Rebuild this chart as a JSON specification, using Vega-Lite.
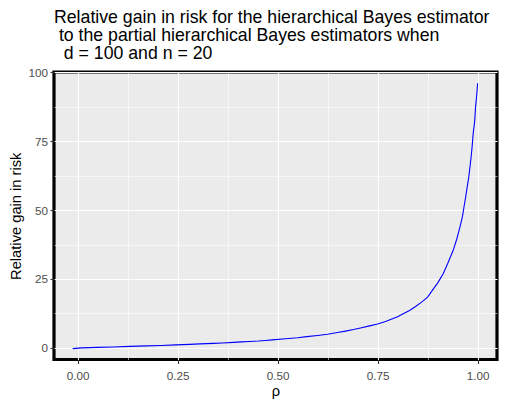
{
  "$schema": "https://vega.github.io/schema/vega-lite/v6.json",
  "autosize": {"type": "none"},
  "width": 443,
  "height": 287.5,
  "padding": {"left": 54, "top": 72, "right": 8, "bottom": 45.5},
  "title": {
    "text": ["Relative gain in risk for the hierarchical Bayes estimator", "\u200b\u00a0to the partial hierarchical Bayes estimators when", "\u200b\u00a0\u00a0d = 100 and n = 20"],
    "anchor": "start",
    "frame": "group",
    "font": "Liberation Sans",
    "fontSize": 17.7,
    "fontWeight": "normal",
    "color": "black",
    "lineHeight": 18.3,
    "baseline": "alphabetic",
    "offset": 12.5,
    "dy": 22.3
  },
  "data": {"values": [
    {"rho": -0.012, "gain": -0.25},
    {"rho": 0.01, "gain": 0.0},
    {"rho": 0.05, "gain": 0.18},
    {"rho": 0.09, "gain": 0.36},
    {"rho": 0.13, "gain": 0.55},
    {"rho": 0.173, "gain": 0.73},
    {"rho": 0.21, "gain": 0.9},
    {"rho": 0.246, "gain": 1.09},
    {"rho": 0.28, "gain": 1.28},
    {"rho": 0.306, "gain": 1.45},
    {"rho": 0.34, "gain": 1.65},
    {"rho": 0.362, "gain": 1.8},
    {"rho": 0.39, "gain": 2.0},
    {"rho": 0.41, "gain": 2.2},
    {"rho": 0.43, "gain": 2.35},
    {"rho": 0.452, "gain": 2.5},
    {"rho": 0.47, "gain": 2.7},
    {"rho": 0.487, "gain": 2.9},
    {"rho": 0.52, "gain": 3.3},
    {"rho": 0.55, "gain": 3.7},
    {"rho": 0.573, "gain": 4.1},
    {"rho": 0.6, "gain": 4.5},
    {"rho": 0.625, "gain": 4.95},
    {"rho": 0.65, "gain": 5.6},
    {"rho": 0.67, "gain": 6.1},
    {"rho": 0.69, "gain": 6.65},
    {"rho": 0.71, "gain": 7.3},
    {"rho": 0.73, "gain": 8.0},
    {"rho": 0.75, "gain": 8.7},
    {"rho": 0.77, "gain": 9.6},
    {"rho": 0.781, "gain": 10.2},
    {"rho": 0.8, "gain": 11.3},
    {"rho": 0.814, "gain": 12.4},
    {"rho": 0.83, "gain": 13.6},
    {"rho": 0.845, "gain": 15.0},
    {"rho": 0.86, "gain": 16.6},
    {"rho": 0.875, "gain": 18.4},
    {"rho": 0.89, "gain": 21.5},
    {"rho": 0.9, "gain": 23.5},
    {"rho": 0.914, "gain": 26.9},
    {"rho": 0.925, "gain": 30.5},
    {"rho": 0.939, "gain": 35.4},
    {"rho": 0.948, "gain": 39.5},
    {"rho": 0.956, "gain": 43.9},
    {"rho": 0.962, "gain": 47.5},
    {"rho": 0.966, "gain": 51.1},
    {"rho": 0.97, "gain": 54.5},
    {"rho": 0.974, "gain": 58.4},
    {"rho": 0.978, "gain": 62.0},
    {"rho": 0.981, "gain": 65.7},
    {"rho": 0.984, "gain": 69.5},
    {"rho": 0.986, "gain": 72.5},
    {"rho": 0.989, "gain": 77.8},
    {"rho": 0.9925, "gain": 82.0},
    {"rho": 0.995, "gain": 87.5},
    {"rho": 0.998, "gain": 92.0},
    {"rho": 1.0, "gain": 96.0}
  ]},
  "mark": {"type": "line", "color": "#0000FF", "strokeWidth": 1.1, "interpolate": "linear"},
  "encoding": {
    "x": {
      "field": "rho",
      "type": "quantitative",
      "scale": {"domain": [-0.0588, 1.0485], "nice": false, "zero": false},
      "axis": {
        "title": "ρ",
        "values": [0, 0.125, 0.25, 0.375, 0.5, 0.625, 0.75, 0.875, 1],
        "labelExpr": "datum.value % 0.25 == 0 ? format(datum.value, '.2f') : ''",
        "gridWidth": {"condition": {"test": "datum.value % 0.25 != 0", "value": 0.55}, "value": 1.1},
        "tickOpacity": {"condition": {"test": "datum.value % 0.25 != 0", "value": 0}, "value": 1}
      }
    },
    "y": {
      "field": "gain",
      "type": "quantitative",
      "scale": {"domain": [-4.2, 100.07], "nice": false, "zero": false},
      "axis": {
        "title": "Relative gain in risk",
        "values": [0, 12.5, 25, 37.5, 50, 62.5, 75, 87.5, 100],
        "labelExpr": "datum.value % 25 == 0 ? format(datum.value, 'd') : ''",
        "gridWidth": {"condition": {"test": "datum.value % 25 != 0", "value": 0.55}, "value": 1.1},
        "tickOpacity": {"condition": {"test": "datum.value % 25 != 0", "value": 0}, "value": 1}
      }
    }
  },
  "config": {
    "view": {"fill": "#EBEBEB", "stroke": "black", "strokeWidth": 3.2},
    "axis": {
      "domain": false,
      "grid": true,
      "gridColor": "white",
      "tickColor": "#333333",
      "tickSize": 4,
      "tickWidth": 1.1,
      "labelFont": "Liberation Sans",
      "labelFontSize": 11.7,
      "labelColor": "#4D4D4D",
      "labelPadding": 2.5,
      "titleFont": "Liberation Sans",
      "titleFontSize": 14.7,
      "titleFontWeight": "normal",
      "titleColor": "black"
    },
    "axisX": {"titlePadding": 2, "labelPadding": 6.5},
    "axisY": {"titlePadding": 4}
  }
}
